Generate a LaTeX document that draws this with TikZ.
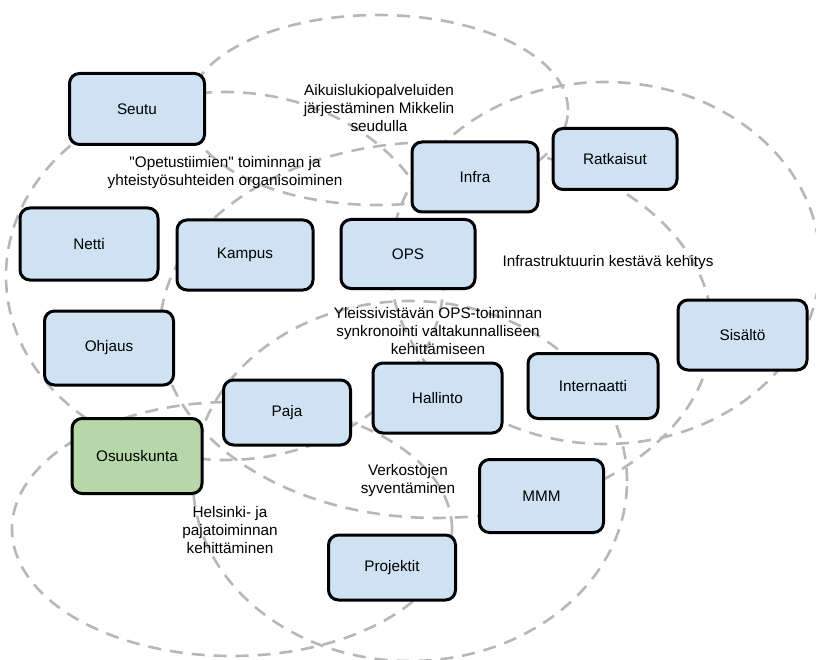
\documentclass[tikz,border=0pt]{standalone}
\usepackage{fontspec}
\setmainfont{Liberation Sans}
\newfontfamily\plainsans{Liberation Sans}
\definecolor{zonegray}{HTML}{B7B7B7}
\definecolor{tileblue}{HTML}{CFE2F3}
\definecolor{tilegreen}{HTML}{B6D7A8}
\begin{document}
\begin{tikzpicture}[x=1pt,y=-1pt,
  zone/.style={draw=zonegray, line width=2.6pt, dash pattern=on 13pt off 9pt},
  tile/.style={draw=black, line width=3pt, rounded corners=10pt, fill=tileblue,
    inner sep=0pt, font=\fontsize{15.3}{18}\selectfont},
  lbl/.style={align=center, inner sep=0pt, font=\fontsize{15.3}{18}\selectfont}]
\useasboundingbox (0,0) rectangle (816,660);
\clip (0,0) rectangle (816,660);

% dashed zones
\draw[zone] (378,110) ellipse [x radius=190pt, y radius=95pt];
\draw[zone] (225,276) ellipse [x radius=219pt, y radius=184pt];
\draw[zone] (605,263) ellipse [x radius=215pt, y radius=181pt];
\draw[zone] (436,330) ellipse [x radius=276pt, y radius=188pt];
\draw[zone] (410,481) ellipse [x radius=217pt, y radius=180pt];
\draw[zone] (232,529) ellipse [x radius=220pt, y radius=127pt];

% zone captions
\node[lbl] (capA) at (379,108) {Aikuislukiopalveluiden\\järjestäminen Mikkelin\\seudulla};
\node[lbl] (capB) at (225,173) {{\plainsans "}Opetustiimien{\plainsans "} toiminnan ja\\yhteistyösuhteiden organisoiminen};
\node[lbl] (capC) at (608,263) {Infrastruktuurin kestävä kehitys};
\node[lbl] (capD) at (438,331) {Yleissivistävän OPS-toiminnan\\synkronointi valtakunnalliseen\\kehittämiseen};
\node[lbl] (capE) at (408,481) {Verkostojen\\syventäminen};
\node[lbl] (capF) at (230,530) {Helsinki- ja\\pajatoiminnan\\kehittäminen};

% units
\node[tile, minimum width=135pt, minimum height=71pt] (seutu) at (137,109) {Seutu};
\node[tile, minimum width=138pt, minimum height=72pt] (netti) at (89,244) {Netti};
\node[tile, minimum width=136pt, minimum height=70pt] (kampus) at (245,255) {Kampus};
\node[tile, minimum width=134pt, minimum height=69pt] (ops) at (408,254) {OPS};
\node[tile, minimum width=126pt, minimum height=70pt] (infra) at (475,177) {Infra};
\node[tile, minimum width=124pt, minimum height=61pt] (ratkaisut) at (615,159) {Ratkaisut};
\node[tile, minimum width=129pt, minimum height=70pt] (sisalto) at (742.5,335) {Sisältö};
\node[tile, minimum width=130pt, minimum height=65pt] (internaatti) at (593,386) {Internaatti};
\node[tile, minimum width=129pt, minimum height=70pt] (hallinto) at (437.5,398) {Hallinto};
\node[tile, minimum width=127pt, minimum height=65pt] (paja) at (287,412.5) {Paja};
\node[tile, minimum width=129pt, minimum height=74pt] (ohjaus) at (109,348) {Ohjaus};
\node[tile, fill=tilegreen, minimum width=130pt, minimum height=75pt] (osuuskunta) at (137,456) {Osuuskunta};
\node[tile, minimum width=124pt, minimum height=73pt] (mmm) at (541.5,496) {MMM};
\node[tile, minimum width=127pt, minimum height=65pt] (projektit) at (392,567.5) {Projektit};
\end{tikzpicture}
\end{document}
